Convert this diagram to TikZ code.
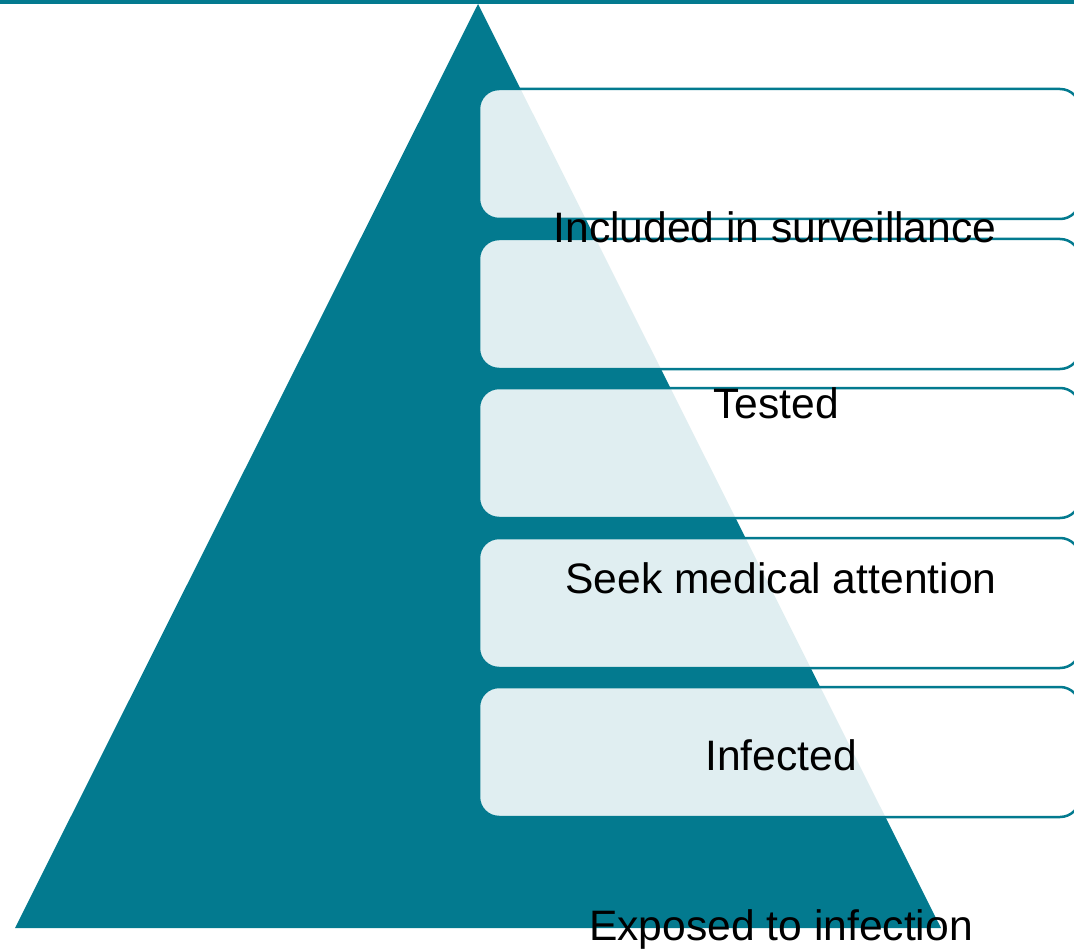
\documentclass[tikz,border=0pt]{standalone}
\usepackage{fontspec}
\setmainfont{Liberation Sans}
\definecolor{teal1}{RGB}{3,122,143}
\begin{document}
\begin{tikzpicture}[x=1pt,y=-1pt,
  level/.style={draw=teal1,line width=2.5pt,fill=white,fill opacity=0.88,rounded corners=20pt},
  lbl/.style={anchor=base,inner sep=0pt,font=\fontsize{42.6}{50}\selectfont,text=black}]
\useasboundingbox (0,0) rectangle (1074,952);
\fill[teal1] (0,0) rectangle (1074,4);
\fill[teal1] (478,4) coordinate (apex) -- (15,928) coordinate (bl) -- (941,928) coordinate (br) -- cycle;
\foreach \t/\n in {89/b1,239/b2,388/b3,538/b4,687/b5}{
  \path[level] (479,\t) rectangle (1080,\t+130);
}
\node[lbl] (l1) at (775,243) {Included in surveillance};
\node[lbl] (l2) at (776,418) {Tested};
\node[lbl] (l3) at (781,593) {Seek medical attention};
\node[lbl] (l4) at (781,770) {Infected};
\node[lbl] (l5) at (781,940) {Exposed to infection};
\end{tikzpicture}
\end{document}
